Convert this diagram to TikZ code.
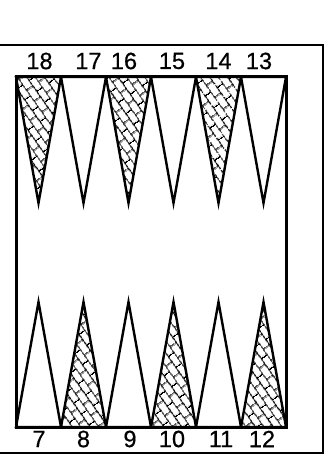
\documentclass[tikz,border=0pt]{standalone}
\usepackage{fontspec}
\setmainfont{Liberation Sans}
\newfontfamily\numfont{Liberation Sans}[FakeBold=0.6]
\usetikzlibrary{patterns.meta}

\tikzdeclarepattern{
  name=scales,
  type=uncolored,
  bounding box={(0pt,0pt) and (14pt,15pt)},
  tile size={(14pt,15pt)},
  tile transformation={rotate=-55},
  code={
    \draw[line width=1.2pt] (0pt,2pt) -- (14pt,2pt) (0pt,9.5pt) -- (14pt,9.5pt)
      (3pt,2pt) -- (3pt,9.5pt) (10pt,9.5pt) -- (10pt,15pt) (10pt,0pt) -- (10pt,2pt);
  }
}

\tikzset{
  point/.style={line width=2.4pt, line join=miter},
  shadedpt/.style={pattern=scales},
  emptypt/.style={},
  numlabel/.style={font=\numfont\fontsize{23.5}{28}\selectfont, inner sep=0pt}
}

\begin{document}
\begin{tikzpicture}[x=1pt, y=-1pt]
	\useasboundingbox (0,0) rectangle (328,457);
	% outer frame, open at the left
	\draw[line width=1.3pt] (0,45) -- (323,45) -- (323,453) -- (0,453);
	% top points
	\foreach \i/\n/\s/\lx in {0/18/shadedpt/39.5,1/17/emptypt/88.5,2/16/shadedpt/124,3/15/emptypt/172,4/14/shadedpt/218.5,5/13/emptypt/259} {
		\pgfmathsetmacro{\xl}{16+45*\i}
		\draw[point, \s] (\xl,77) -- (\xl+22.5,203) -- (\xl+45,77) -- cycle;
		\node[numlabel] (n\n) at (\lx,61) {\n};
	}
	% bottom points
	\foreach \i/\n/\s/\lx in {0/7/emptypt/39,1/8/shadedpt/83.5,2/9/emptypt/130,3/10/shadedpt/172,4/11/emptypt/221,5/12/shadedpt/262} {
		\pgfmathsetmacro{\xl}{16+45*\i}
		\draw[point, \s] (\xl,427) -- (\xl+22.5,302) -- (\xl+45,427) -- cycle;
		\node[numlabel] (n\n) at (\lx,439) {\n};
	}
	% board
	\draw[line width=3pt] (16,77) rectangle (286,427);
\end{tikzpicture}
\end{document}
